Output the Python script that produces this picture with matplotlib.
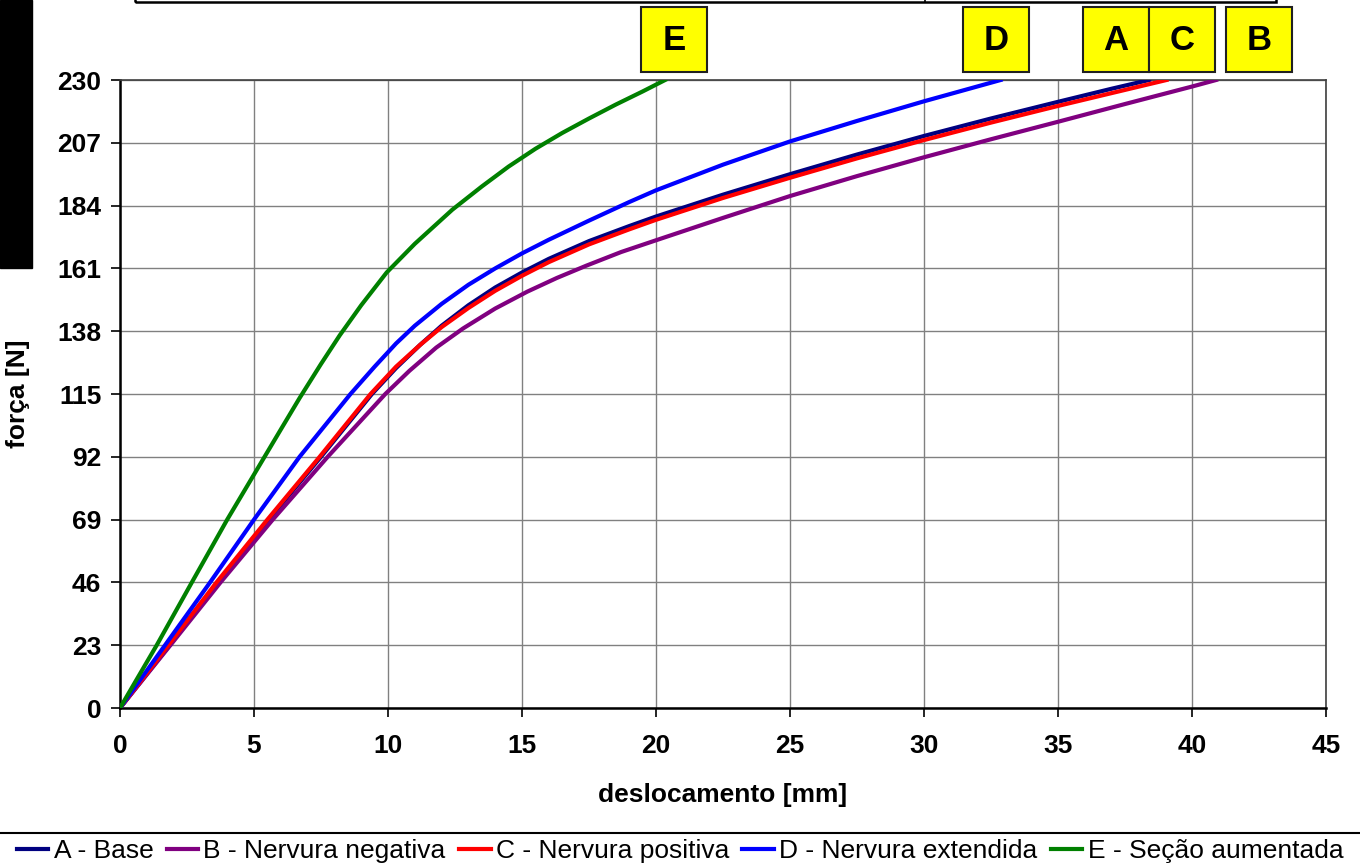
import matplotlib.pyplot as plt
from matplotlib.patches import Rectangle
from matplotlib.lines import Line2D

plt.rcParams['font.family'] = ['Liberation Sans', 'DejaVu Sans']

a_desloc = [0, 1.85, 3.65, 5.55, 7.5, 9.4, 10.3, 11.2, 12, 13, 14, 15, 16, 17.5, 19, 20,
            22.5, 25, 27.5, 30, 32.5, 35, 37, 38.4]
a_forca = [0, 23, 46, 69, 92, 115, 124.5, 133, 140, 147.5, 154, 159.5, 164.5, 171, 176.5, 180,
           188, 195.5, 202.7, 209.5, 215.9, 222, 226.8, 230]

b_desloc = [0, 1.88, 3.75, 5.7, 7.75, 9.9, 10.8, 11.8, 12.8, 14, 15.2, 16.3, 17.4, 18.7, 20,
            22.5, 25, 27.5, 30, 32.5, 35, 37.5, 40, 40.9]
b_forca = [0, 23, 46, 69, 92, 115, 123.5, 132, 139, 146.3, 152.5, 157.5, 162, 167, 171.3,
           179.5, 187.5, 194.8, 201.7, 208.3, 214.7, 221.2, 227.6, 230]

c_desloc = [0, 1.8, 3.6, 5.5, 7.45, 9.35, 10.3, 11.2, 12, 13, 14, 15, 16, 17.5, 19, 20,
            22.5, 25, 27.5, 30, 32.5, 35, 37, 39.05]
c_forca = [0, 23, 46, 69, 92, 115, 125, 133, 139.5, 146.5, 152.8, 158.3, 163.3, 169.8, 175.3, 178.8,
           186.8, 194.2, 201.3, 208, 214.4, 220.5, 225.2, 230]

d_desloc = [0, 1.68, 3.36, 5.0, 6.7, 8.6, 9.5, 10.3, 11, 12, 13, 14, 15, 16, 17.5, 19, 20,
            22.5, 25, 27.5, 30, 32.86]
d_forca = [0, 23, 46, 69, 92, 115, 125, 133.5, 140, 148, 155, 161, 166.5, 171.5, 178.5, 185.3, 189.6,
           199, 207.5, 215, 222.2, 230]

e_desloc = [0, 1.37, 2.68, 4.0, 5.0, 6.0, 6.7, 7.5, 8.2, 9.0, 9.95, 11, 12.4, 13.5, 14.5, 15.5,
            16.5, 17.5, 18.5, 19.5, 20.34]
e_forca = [0, 23, 46, 69, 85.5, 102, 113.5, 126, 136.5, 147.5, 159.5, 170, 182.5, 191, 198.3, 204.8,
           210.6, 215.9, 221, 225.8, 230]

nomes = ['A - Base', 'B - Nervura negativa', 'C - Nervura positiva',
         'D - Nervura extendida', 'E - Seção aumentada']
cores = ['#000080', '#800080', '#FF0000', '#0000FF', '#008000']
letras = ['E', 'D', 'A', 'C', 'B']

y_ticks = [0, 23, 46, 69, 92, 115, 138, 161, 184, 207, 230]
x_ticks = [0, 5, 10, 15, 20, 25, 30, 35, 40, 45]

W, H = 1360, 866
fig = plt.figure(figsize=(W / 100, H / 100), dpi=100)
ax = fig.add_axes([120 / W, 158 / H, 1206 / W, 628 / H])

series = [(a_desloc, a_forca), (b_desloc, b_forca), (c_desloc, c_forca),
          (d_desloc, d_forca), (e_desloc, e_forca)]
for (xs, ys), nome, cor in zip(series, nomes, cores):
    ax.plot(xs, ys, color=cor, lw=3, label=nome, solid_joinstyle='round', zorder=3)

ax.set_xlim(0, 45)
ax.set_ylim(0, 230)
ax.set_xticks(x_ticks)
ax.set_yticks(y_ticks)
ax.grid(True, color='#808080', lw=1)
ax.set_axisbelow(True)
ax.tick_params(direction='out', length=6.5, width=1.2, labelsize=19, colors='black')
ax.tick_params(axis='x', pad=12)
ax.tick_params(axis='y', pad=7)
for lbl in ax.get_xticklabels() + ax.get_yticklabels():
    lbl.set_fontweight('bold')

ax.spines['left'].set_color('black')
ax.spines['bottom'].set_color('black')
ax.spines['left'].set_linewidth(1.8)
ax.spines['bottom'].set_linewidth(1.8)
for s in ['top', 'right']:
    ax.spines[s].set_color('#404040')
    ax.spines[s].set_linewidth(1.2)

ax.set_xlabel('deslocamento [mm]', fontsize=19, fontweight='bold', va='center')
ax.xaxis.set_label_coords(0.5, (708 - 795) / 628)
ax.set_ylabel('força [N]', fontsize=19, fontweight='bold', va='center')
ax.yaxis.set_label_coords((18 - 120) / 1206, 0.5)

# caixa do titulo (cortada no topo) e barra preta à esquerda
fig.patches.append(Rectangle((135 / W, 1 - 2 / H), (1276 - 135) / W, 0.1,
                             transform=fig.transFigure, fill=False, ec='black', lw=1.8))
fig.lines.append(Line2D([925 / W, 925 / W], [1 - 2 / H, 1], transform=fig.transFigure,
                        color='black', lw=1.2))
fig.patches.append(Rectangle((0, 1 - 268 / H), 32 / W, 268 / H,
                             transform=fig.transFigure, color='black'))

# etiquetas amarelas com as letras
caixas_x = [641, 963, 1083, 1149, 1226]
for letra, px in zip(letras, caixas_x):
    fig.patches.append(Rectangle((px / W, 1 - 72 / H), 66 / W, 65 / H,
                                 transform=fig.transFigure, fc='#FFFF00', ec='#202020', lw=1.5))
    fig.text((px + 33) / W, 1 - 40 / H, letra, ha='center', va='center',
             fontsize=25, fontweight='bold')

# legenda embaixo com linha separadora
fig.lines.append(Line2D([0, 1], [1 - 833 / H] * 2, transform=fig.transFigure,
                        color='black', lw=1.5))
fig.legend(loc='center', bbox_to_anchor=(0.5, 1 - 851 / H), ncol=5, frameon=False,
           fontsize=19, handlelength=1.2, handletextpad=0.2, columnspacing=0.5,
           borderpad=0, borderaxespad=0)

fig.savefig('out.png', dpi=100)
